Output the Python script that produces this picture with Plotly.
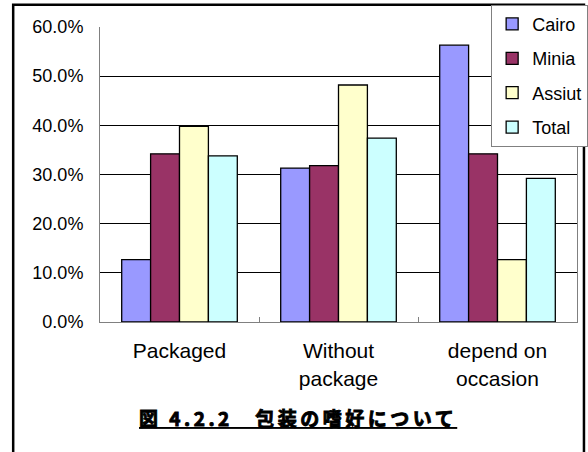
import plotly.graph_objects as go

# Packaging preference by region (share of respondents)
categories = ["Packaged", "Without<br>package", "depend on<br>occasion"]
regions = ["Cairo", "Minia", "Assiut", "Total"]
cairo = [0.127, 0.313, 0.563]
minia = [0.342, 0.318, 0.342]
assiut = [0.398, 0.482, 0.127]
total = [0.338, 0.374, 0.292]
series = [cairo, minia, assiut, total]
colors = ["#9999FF", "#993366", "#FFFFCC", "#CCFFFF"]
y_ticks = [0.0, 0.1, 0.2, 0.3, 0.4, 0.5, 0.6]
caption = "図 4.2.2\u3000包装の嗜好について"

FONT = "Arial, 'Liberation Sans', sans-serif"

fig = go.Figure()
for name, vals, col in zip(regions, series, colors):
    fig.add_trace(go.Bar(
        x=categories, y=vals, name=name, legendgroup=name,
        marker=dict(color=col, line=dict(color="#000000", width=1.3)),
    ))

fig.update_layout(
    width=588, height=452,
    margin=dict(l=100, r=11, t=27, b=130, autoexpand=False),
    paper_bgcolor="white", plot_bgcolor="white",
    barmode="group", bargap=0.273, bargroupgap=0,
    font=dict(family=FONT, color="#000000"),
    showlegend=True,
    legend=dict(
        x=0.82, y=1.0756, xanchor="left", yanchor="top",
        bgcolor="white", bordercolor="#808080", borderwidth=1,
        font=dict(size=18, family=FONT), tracegroupgap=8,
        itemwidth=30,
    ),
    xaxis=dict(
        showline=True, linecolor="#808080", linewidth=1,
        ticks="inside", ticklen=5, tickcolor="#808080", tickson="boundaries",
        tickfont=dict(size=21, family=FONT), ticklabelstandoff=10,
        showgrid=False,
    ),
    yaxis=dict(
        range=[0, 0.6], tickvals=y_ticks, tickformat=".1%",
        showline=True, mirror=True, linecolor="#808080", linewidth=1,
        showgrid=True, gridcolor="#000000", gridwidth=1,
        zeroline=False, ticks="", ticklabelstandoff=12,
        tickfont=dict(size=18, family=FONT),
    ),
)

# chart frame
fig.add_shape(type="rect", xref="paper", yref="paper",
              x0=-0.182, x1=1.0146, y0=-0.6, y1=1.0756,
              line=dict(color="#000000", width=2.5), layer="below")

# figure caption (heavy gothic, underlined)
fig.add_annotation(
    xref="paper", yref="paper", x=0.416, y=-0.325,
    xanchor="center", yanchor="middle", showarrow=False,
    text=("<b><span style='letter-spacing:3.5px;stroke:#000000;"
          "stroke-width:0.9px'>" + caption + "</span></b>"),
    font=dict(family="'Noto Sans CJK JP', sans-serif", size=19,
              weight="bold", color="#000000", lineposition="under"),
)

fig.write_html("out.html")
